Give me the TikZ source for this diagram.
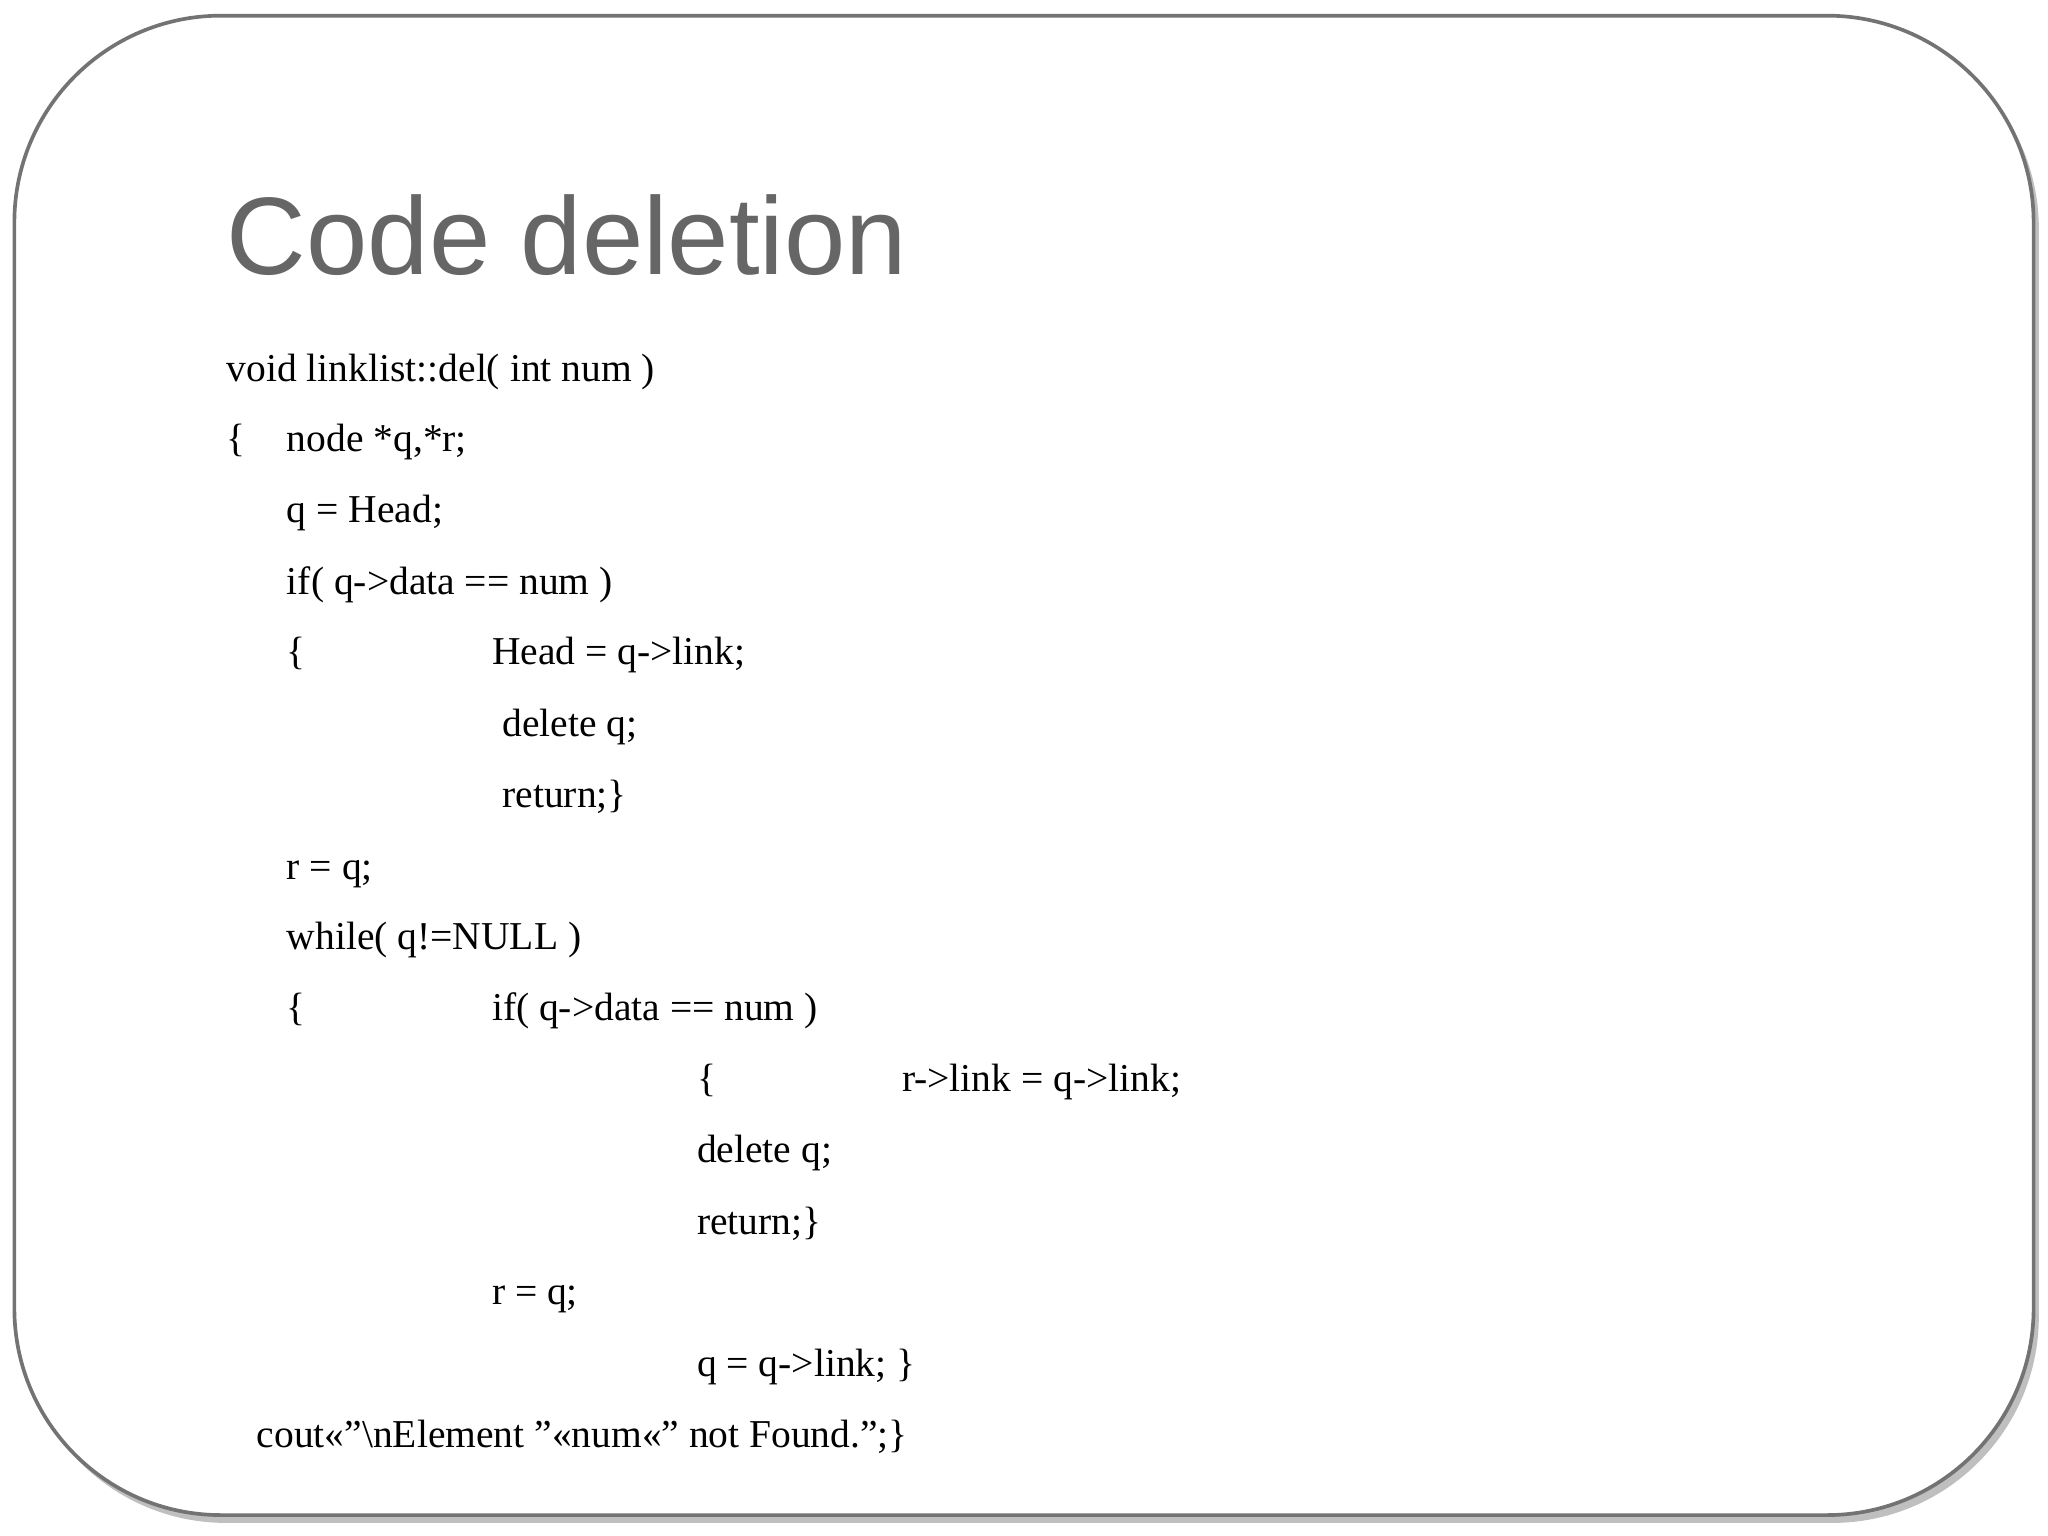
\documentclass[tikz,border=0pt]{standalone}
\usepackage{fontspec}
\setmainfont{Liberation Serif}
\newfontfamily\titlefont{Liberation Sans}
\begin{document}
\begin{tikzpicture}[x=0.01cm,y=-0.01cm,
  code/.style={anchor=base west,inner sep=0pt,font=\fontsize{8.6pt}{10pt}\selectfont},
  ttl/.style={anchor=base west,inner sep=0pt,text=black!60,font=\titlefont\fontsize{24pt}{28pt}\selectfont}]
\useasboundingbox (0,0) rectangle (1568,1176);
\fill[black!25] (15,17) [rounded corners=45] rectangle (1561,1166);
\draw[black!55,fill=white,line width=0.8pt,rounded corners=45] (11,12) rectangle (1557,1160);
\node[ttl] (t) at (173,210) {Code deletion};
\node[code] (l1) at (173,292) {void linklist::del( int num )};
\node[code] (l2a) at (173,346) {\{};
\node[code] (l2) at (219,346) {node *q,*r;};
\node[code] (l3) at (219,400) {q = Head;};
\node[code] (l4) at (219,455) {if( q->data == num )};
\node[code] (l5a) at (219,509) {\{};
\node[code] (l5) at (376,509) {Head = q->link;};
\node[code] (l6) at (384,564) {delete q;};
\node[code] (l7) at (384,618) {return;\}};
\node[code] (l8) at (219,673) {r = q;};
\node[code] (l9) at (219,727) {while( q!=NULL )};
\node[code] (l10a) at (219,781) {\{};
\node[code] (l10) at (376,781) {if( q->data == num )};
\node[code] (l11a) at (533,836) {\{};
\node[code] (l11) at (690,836) {r->link = q->link;};
\node[code] (l12) at (533,890) {delete q;};
\node[code] (l13) at (533,945) {return;\}};
\node[code] (l14) at (376,999) {r = q;};
\node[code] (l15) at (533,1054) {q = q->link; \}};
\node[code] (l16) at (196,1108) {cout<<"\textbackslash nElement "<<num<<" not Found.";\}};
\end{tikzpicture}
\end{document}
